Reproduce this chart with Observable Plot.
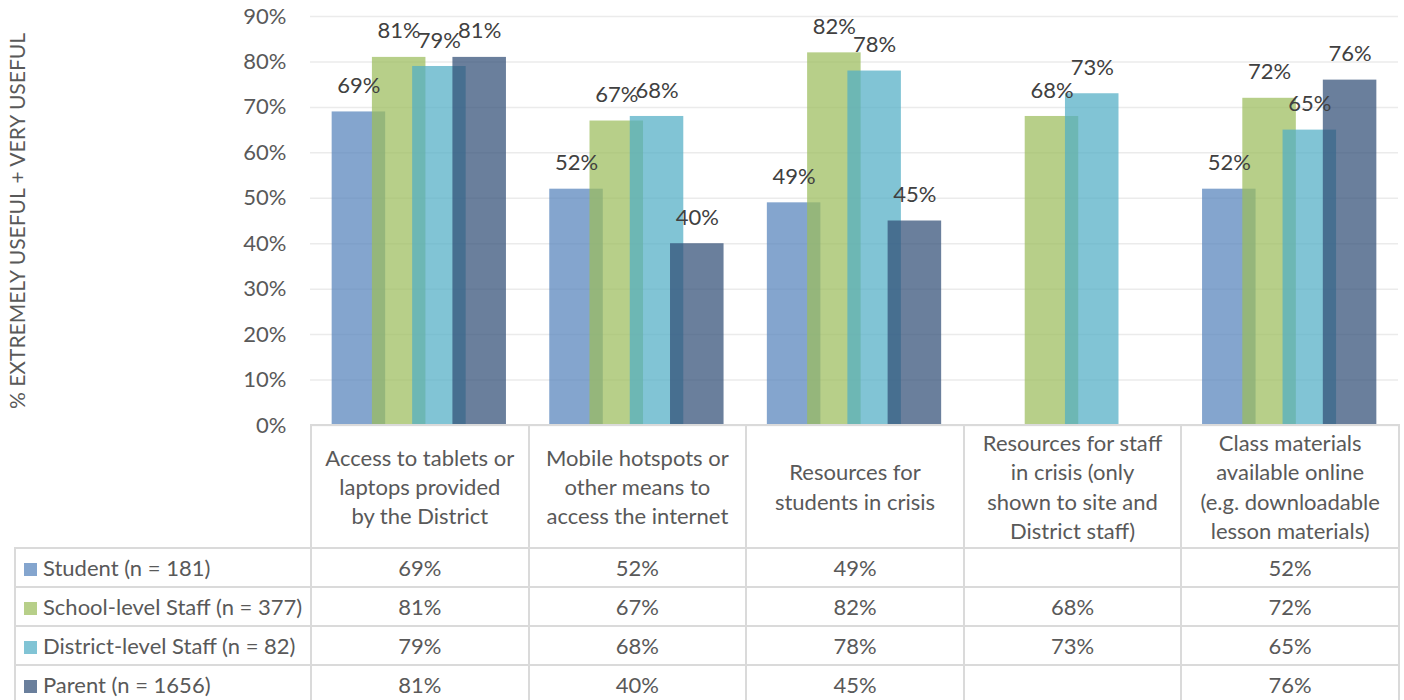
<!DOCTYPE html>
<html><head><meta charset="utf-8">
<script src="https://cdn.jsdelivr.net/npm/d3@7"></script>
<script src="https://cdn.jsdelivr.net/npm/@observablehq/plot@0.6"></script>
<style>
body{margin:0;background:#fff;font-family:Lato, sans-serif;}
#wrap{position:relative;width:1404px;height:700px;overflow:hidden;background:#fff;}
#wrap svg{position:absolute;left:0;top:0;}
table{position:absolute;left:14px;top:424px;border-collapse:collapse;table-layout:fixed;width:1384px;color:#595959;font-size:22px;font-family:Lato, sans-serif;}
td{border:2px solid #dadada;padding:0;text-align:center;vertical-align:middle;}
tr.head td{height:121px;white-space:pre-line;line-height:29.3px;}
tr.head td.blank{border-top:none;border-left:none;}
tr.data td{height:37px;}
td.leg{text-align:left;padding-left:8px;white-space:nowrap;}
.sw{display:inline-block;width:13px;height:13px;margin-right:6px;vertical-align:0px;}
</style></head><body><div id="wrap"></div>
<script>
const categories = [
  "Access to tablets or\nlaptops provided\nby the District",
  "Mobile hotspots or\nother means to\naccess the internet",
  "Resources for\nstudents in crisis",
  "Resources for staff\nin crisis (only\nshown to site and\nDistrict staff)",
  "Class materials\navailable online\n(e.g. downloadable\nlesson materials)"
];
const seriesNames = ["Student (n = 181)", "School-level Staff (n = 377)", "District-level Staff (n = 82)", "Parent (n = 1656)"];
const student  = [0.69, 0.52, 0.49, null, 0.52];
const school   = [0.81, 0.67, 0.82, 0.68, 0.72];
const district = [0.79, 0.68, 0.78, 0.73, 0.65];
const parent   = [0.81, 0.40, 0.45, null, 0.76];
const seriesColors = ["#5482bb", "#9bbc5c", "#51adc5", "#314d76"];
const yTicks = [0, 0.1, 0.2, 0.3, 0.4, 0.5, 0.6, 0.7, 0.8, 0.9];
const yTitle = "% EXTREMELY USEFUL + VERY USEFUL";

const seriesValues = [student, school, district, parent];
const rows = [];
seriesValues.forEach((vals, s) => vals.forEach((v, c) => {
  if (v != null) rows.push({c, s, name: seriesNames[s], v});
}));

const STEP = 0.185, BAR = 0.246, OP = 0.72;
const cx = d => d.c + 0.5 + (d.s - 1.5) * STEP;
const pct = d3.format(".0%");

const chart = Plot.plot({
  width: 1404, height: 426,
  marginLeft: 310, marginRight: 6, marginTop: 16, marginBottom: 1,
  style: {fontFamily: "Lato, sans-serif", fontSize: "22px", color: "#595959", background: "transparent", overflow: "visible"},
  x: {domain: [0, categories.length], axis: null},
  y: {domain: [0, 0.9], ticks: yTicks, tickFormat: pct, tickSize: 0, tickPadding: 24, label: null},
  color: {domain: seriesNames, range: seriesColors},
  marks: [
    Plot.ruleY(yTicks, {stroke: "#ebebeb", strokeWidth: 1.5}),
    Plot.rectY(rows, {x1: d => cx(d) - BAR / 2, x2: d => cx(d) + BAR / 2, y1: 0, y2: "v", fill: "name", fillOpacity: OP}),
    Plot.text(rows, {x: cx, y: "v", text: d => pct(d.v), dy: -26, fill: "#404040", fontSize: 22}),
    Plot.text([yTitle], {text: d => d, frameAnchor: "left", textAnchor: "middle", dx: -292, rotate: -90, fill: "#595959", fontSize: 21})
  ]
});
const wrap = document.getElementById("wrap");
wrap.appendChild(chart);

const table = d3.select(wrap).append("table");
const cg = table.append("colgroup");
cg.append("col").style("width", "296px");
categories.forEach(() => cg.append("col").style("width", "217.6px"));
const head = table.append("tr").attr("class", "head");
head.append("td").attr("class", "blank");
categories.forEach(c => head.append("td").text(c));
seriesNames.forEach((name, s) => {
  const tr = table.append("tr").attr("class", "data");
  const lc = tr.append("td").attr("class", "leg");
  lc.append("span").attr("class", "sw").style("background", seriesColors[s]).style("opacity", OP);
  lc.append("span").text(name);
  seriesValues[s].forEach(v => tr.append("td").text(v == null ? "" : pct(v)));
});
</script></body></html>
